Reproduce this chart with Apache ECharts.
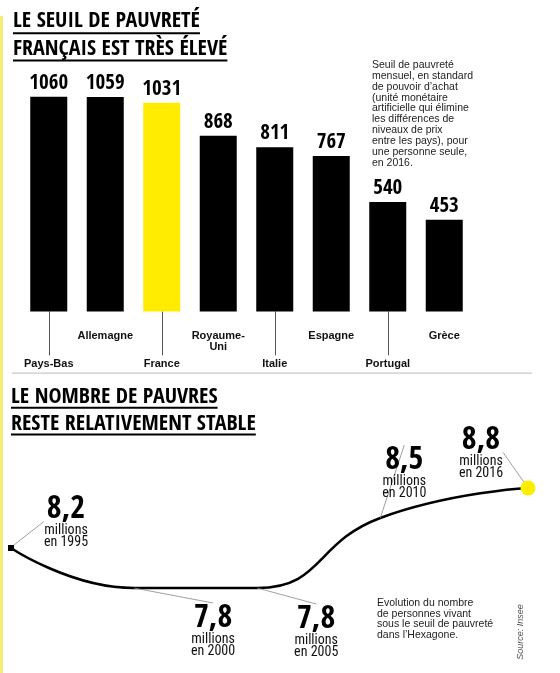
<!DOCTYPE html>
<html><head><meta charset="utf-8">
<script src="https://cdn.jsdelivr.net/npm/echarts@6/dist/echarts.min.js"></script>
<style>html,body{margin:0;padding:0;background:#fff}#c{width:560px;height:673px}</style>
</head><body><div id="c"></div>
<script>
// ---- data ----
const countries = ['Pays-Bas','Allemagne','France','Royaume-\nUni','Italie','Espagne','Portugal','Grèce'];
const thresholds = [1060,1059,1031,868,811,767,540,453];
const highlightCountry = 'France';
const years = [1995,2000,2005,2010,2016];
const poorMillions = [8.2,7.8,7.8,8.5,8.8];
const unitWord = 'millions';
const title1 = ['LE SEUIL DE PAUVRETÉ','FRANÇAIS EST TRÈS ÉLEVÉ'];
const title2 = ['LE NOMBRE DE PAUVRES','RESTE RELATIVEMENT STABLE'];
const note1 = 'Seuil de pauvreté\nmensuel, en standard\nde pouvoir d’achat\n(unité monétaire\nartificielle qui élimine\nles différences de\nniveaux de prix\nentre les pays), pour\nune personne seule,\nen 2016.';
const note2 = 'Evolution du nombre\nde personnes vivant\nsous le seuil de pauvreté\ndans l’Hexagone.';
const sourceText = 'Source: Insee';

// ---- styles / layout ----
const COND = '"Open Sans Condensed","Roboto Condensed","DejaVu Sans Condensed",sans-serif';
const RCOND = '"Roboto Condensed","DejaVu Sans Condensed",sans-serif';
const SANS = '"Liberation Sans",Arial,sans-serif';
const YELLOW = '#ffec00';
const labelOffsets = [[55,-26],[79,43],[59,44],[24,-45],[-47,-35]];

function textW(t, font){ const c=document.createElement('canvas').getContext('2d'); c.font=font; return c.measureText(t).width; }
const TFONT = 'bold 22px ' + COND;

function titleGraphics(lines, x, centers, unders){
  const g=[];
  lines.forEach((t,i)=>{
    g.push({type:'text', x:x, y:centers[i], style:{text:t, font:TFONT, fill:'#000', verticalAlign:'middle', align:'left'}});
    g.push({type:'rect', x:x, y:unders[i], shape:{width:textW(t,TFONT), height:2}, style:{fill:'#000'}});
  });
  return g;
}

const chart = echarts.init(document.getElementById('c'), null, {renderer:'canvas'});
const graphics = [
  {type:'rect', x:0, y:16, shape:{width:3, height:657}, style:{fill:'#f4ee78'}},
  {type:'rect', x:12, y:372.5, shape:{width:520, height:1.2}, style:{fill:'#c9c9c9'}},
  ...titleGraphics(title1, 13, [21, 49.5], [32.3, 59.5]),
  ...titleGraphics(title2, 11, [397.5, 424.5], [406.8, 433.5]),
  {type:'text', x:372, y:59.5, style:{text:note1, font:'10.5px '+SANS, lineHeight:10.9, fill:'#222', verticalAlign:'top'}},
  {type:'text', x:377, y:597.5, style:{text:note2, font:'10.5px '+SANS, lineHeight:10.8, fill:'#222', verticalAlign:'top'}},
  {type:'text', x:520, y:632, rotation:Math.PI/2, style:{text:sourceText, font:'italic 9px '+SANS, fill:'#555', align:'center', verticalAlign:'middle'}}
];

const fmt = v => v.toFixed(1).replace('.', ',');

chart.setOption({
  animation:false,
  backgroundColor:'#fff',
  graphic: graphics,
  grid:[
    {left:20.5, width:452, top:96.8, bottom:361.6},
    {left:11, right:32, top:468, bottom:55}
  ],
  xAxis:[
    {type:'category', gridIndex:0, data:countries,
     axisLine:{show:false},
     axisTick:{show:true, alignWithLabel:true, length:44, interval:(i)=>i%2===0, lineStyle:{color:'#555', width:1}},
     axisLabel:{interval:0, margin:19, formatter:(v,i)=>v.split('\n').map(s=>'{'+(i%2===0?'lo':'hi')+'|'+s+'}').join('\n'),
       rich:{
         hi:{fontFamily:SANS, fontWeight:'bold', fontSize:11, lineHeight:11, color:'#111'},
         lo:{fontFamily:SANS, fontWeight:'bold', fontSize:11, lineHeight:67, color:'#111'}
       }}},
    {type:'value', gridIndex:1, min:1995, max:2016, show:false}
  ],
  yAxis:[
    {type:'value', gridIndex:0, min:0, max:1060, show:false},
    {type:'value', gridIndex:1, min:7.5, max:9.0, show:false}
  ],
  series:[
    {type:'bar', xAxisIndex:0, yAxisIndex:0, barWidth:'65.5%',
     data: thresholds.map((v,i)=>({value:v, itemStyle:{color: countries[i]===highlightCountry?YELLOW:'#000'}})),
     label:{show:true, position:'top', distance:3, fontFamily:COND, fontWeight:'bold', fontSize:21, color:'#000'}},
    {type:'line', xAxisIndex:1, yAxisIndex:1, smooth:0.5, clip:false,
     lineStyle:{color:'#000', width:2.5},
     data: years.map((y,i)=>{
       const last = i===years.length-1, first = i===0;
       return {value:[y, poorMillions[i]],
         symbol: first?'rect':'circle',
         symbolSize: first?6:(last?15:0),
         itemStyle:{color: last?YELLOW:'#000'}};
     }),
     label:{show:true, position:'inside', align:'center', verticalAlign:'middle',
       formatter:(p)=>'{v|'+fmt(p.value[1])+'}\n{m|'+unitWord+'}\n{m|en '+p.value[0]+'}',
       rich:{
         v:{fontFamily:COND, fontWeight:'bold', fontSize:32, lineHeight:28, color:'#000', align:'center'},
         m:{fontFamily:RCOND, fontSize:14, lineHeight:12, color:'#111', align:'center'}
       }},
     labelLine:{show:true, lineStyle:{color:'#888', width:0.8}},
     labelLayout:(p)=>({dx:labelOffsets[p.dataIndex][0], dy:labelOffsets[p.dataIndex][1]})
    }
  ]
});
</script></body></html>
